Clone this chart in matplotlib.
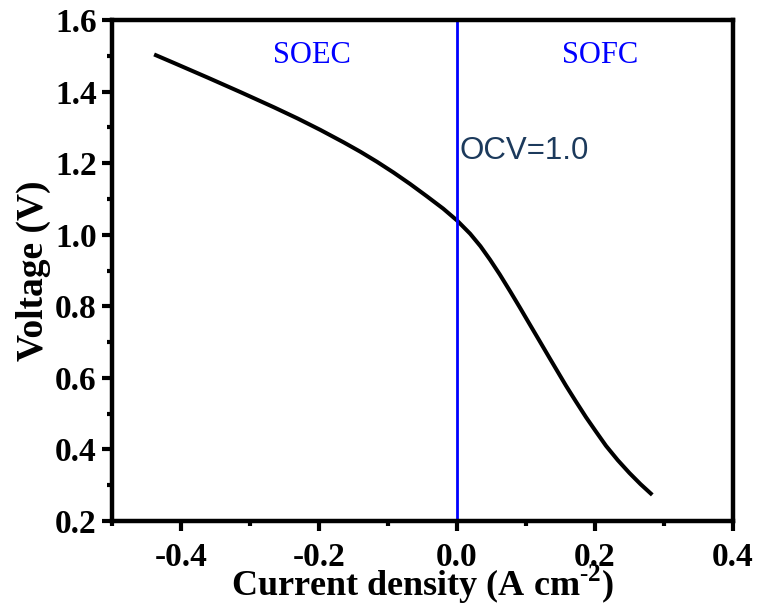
import matplotlib
matplotlib.use("Agg")
import matplotlib.pyplot as plt
from matplotlib.ticker import MultipleLocator

plt.rcParams["mathtext.fontset"] = "custom"
plt.rcParams["mathtext.rm"] = "Liberation Serif"
plt.rcParams["mathtext.bf"] = "Liberation Serif:bold"

current = [-0.439, -0.410, -0.361, -0.313, -0.265, -0.231, -0.198, -0.164, -0.140,
           -0.116, -0.092, -0.068, -0.044, -0.020, 0.0, 0.019, 0.034, 0.048, 0.062,
           0.077, 0.091, 0.105, 0.120, 0.134, 0.146, 0.158, 0.172, 0.187, 0.201,
           0.216, 0.233, 0.250, 0.266, 0.283]
voltage = [1.504, 1.480, 1.439, 1.398, 1.356, 1.325, 1.293, 1.258, 1.232,
           1.204, 1.174, 1.142, 1.108, 1.073, 1.040, 1.003, 0.968, 0.930, 0.889,
           0.842, 0.797, 0.751, 0.702, 0.656, 0.617, 0.578, 0.535, 0.490, 0.451,
           0.410, 0.370, 0.334, 0.303, 0.273]

xticks = [-0.4, -0.2, 0.0, 0.2, 0.4]
yticks = [0.2, 0.4, 0.6, 0.8, 1.0, 1.2, 1.4, 1.6]

fig = plt.figure(figsize=(7.58, 6.09), dpi=100)
ax = fig.add_axes([0.1478, 0.1445, 0.967 - 0.1478, 0.967 - 0.1445])

ax.plot(current, voltage, color="black", lw=2.9, solid_joinstyle="round",
        solid_capstyle="butt")
ax.axvline(0.0, color="#0000ff", lw=2.0)

ax.set_xlim(-0.5, 0.4)
ax.set_ylim(0.2, 1.6)
ax.set_xticks(xticks)
ax.set_yticks(yticks)
ax.set_xticklabels([f"{v:.1f}" for v in xticks])
ax.set_yticklabels([f"{v:.1f}" for v in yticks])
ax.xaxis.set_minor_locator(MultipleLocator(0.1))
ax.yaxis.set_minor_locator(MultipleLocator(0.1))

for s in ax.spines.values():
    s.set_linewidth(3.2)
ax.tick_params(which="major", direction="out", length=7, width=3,
               labelsize=24, top=False, right=False)
ax.tick_params(axis="x", which="major", pad=8)
ax.tick_params(axis="y", which="major", pad=4)
ax.tick_params(which="minor", direction="out", length=3.5, width=3,
               top=False, right=False)
for lab in ax.get_xticklabels() + ax.get_yticklabels():
    lab.set_fontfamily("Liberation Serif")
    lab.set_fontweight("bold")

ax.set_xlabel(r"Current density (A cm$^{\mathbf{\text{-}2}}$)", fontsize=26,
              fontweight="bold", family="Liberation Serif", labelpad=-7)
ax.set_ylabel("Voltage (V)", fontsize=27, fontweight="bold",
              family="Liberation Serif", labelpad=3)

ax.text(-0.21, 1.50, "SOEC", color="#0000ff", fontsize=22,
        family="Liberation Serif", ha="center", va="center")
ax.text(0.208, 1.50, "SOFC", color="#0000ff", fontsize=22,
        family="Liberation Serif", ha="center", va="center")
ax.text(0.003, 1.234, "OCV=1.0", color="#1c3a5c", fontsize=22.5,
        family="Liberation Sans", ha="left", va="center")

fig.savefig("out.png", dpi=100)
